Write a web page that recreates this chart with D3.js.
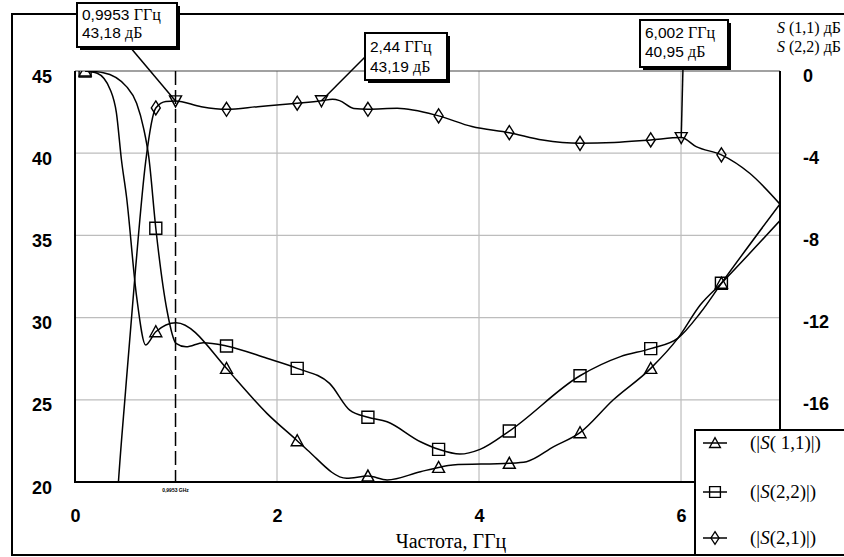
<!DOCTYPE html>
<html>
<head>
<meta charset="utf-8">
<script src="https://cdn.jsdelivr.net/npm/d3@7"></script>
<style>
body{margin:0;background:#fff;}
svg{display:block;}
</style>
</head>
<body>
<div class="chart"></div>
<script>
// S(1,1), дБ (правая ось)
var s11Freq=[0.1,0.22,0.35,0.41,0.46,0.51,0.61,0.7,0.8,1.0,1.5,1.6,1.9,2.2,2.3,2.69,2.9,3.09,3.42,3.6,3.74,4.3,4.47,4.74,5.0,5.33,5.7,5.97,6.19,6.4,6.98];
var s11Val=[0,-0.11,-0.92,-2.04,-4.33,-6.12,-10.98,-13.33,-12.69,-12.25,-14.47,-15.04,-16.66,-17.99,-18.44,-19.82,-19.71,-19.9,-19.5,-19.29,-19.17,-19.09,-19.01,-18.28,-17.6,-16.0,-14.47,-13.0,-11.39,-10.33,-7.28];
// S(2,2), дБ (правая ось)
var s22Freq=[0.1,0.28,0.51,0.61,0.68,0.73,0.8,0.91,1.0,1.1,1.27,1.5,1.9,2.2,2.52,2.72,2.9,3.09,3.42,3.6,3.81,4.01,4.3,5.0,5.4,5.7,5.97,6.19,6.4,6.98];
var s22Val=[0,-0.08,-0.76,-1.57,-2.8,-4.17,-7.65,-11.63,-13.25,-13.42,-13.22,-13.38,-13.98,-14.47,-15.2,-16.5,-16.85,-17.07,-18.04,-18.41,-18.64,-18.41,-17.52,-14.83,-13.9,-13.51,-13.0,-11.78,-10.33,-6.47];
// S(2,1), дБ (левая ось)
var s21Freq=[0.38,0.43,0.5,0.6,0.7,0.8,0.9,0.9953,1.25,1.5,1.81,2.2,2.44,2.55,2.62,2.76,2.9,3.19,3.6,3.93,4.3,4.63,5.0,5.34,5.7,6.002,6.15,6.4,6.68,6.98];
var s21Val=[15,20,25.5,33,39.5,42.75,43.15,43.18,42.83,42.67,42.83,43.04,43.19,43.28,43.2,42.72,42.67,42.73,42.27,41.62,41.25,40.8,40.6,40.65,40.81,40.95,40.4,39.9,38.78,36.9];

// частоты маркеров
var markerFreq=[0.1,0.8,1.5,2.2,2.9,3.6,4.3,5.0,5.7,6.4];

// маркеры-выноски
var annFreq=[0.9953,2.44,6.002];
var annVal=[43.18,43.19,40.95];
var annFreqText=['0,9953','2,44','6,002'];
var annValText=['43,18','43,19','40,95'];

var xTicks=[0,2,4,6];
var leftTicks=[20,25,30,35,40,45];
var rightTicks=[0,-4,-8,-12,-16];
var legendNames=['S( 1,1)','S(2,2)','S(2,1)'];

var width=844,height=557;
var svg=d3.select('div.chart')
		.append('svg')
		.attr('width',width)
		.attr('height',height);

var pLeft=75,pRight=780,pTop=71,pBottom=482;
var x=d3.scaleLinear().domain([0,6.98]).range([pLeft,pRight]);
var yL=d3.scaleLinear().domain([20,45]).range([pBottom,pTop]);
var yR=d3.scaleLinear().domain([-20,0]).range([pBottom,pTop]);

var sans='"Liberation Sans",Arial,sans-serif';
var serif='"Liberation Serif","Times New Roman",serif';

//внешняя рамка
svg.append('path')
	.attr('d','M850,14H12V555H850')
	.attr('fill','none')
	.attr('stroke','#000')
	.attr('stroke-width',2);

//сетка
svg.append('g').selectAll('line')
	.data([2,4,6])
	.enter().append('line')
	.attr('x1',function(d){return x(d);})
	.attr('x2',function(d){return x(d);})
	.attr('y1',pTop).attr('y2',pBottom)
	.attr('stroke','#bdbdbd').attr('stroke-width',1.2);
svg.append('g').selectAll('line')
	.data([25,30,35,40])
	.enter().append('line')
	.attr('y1',function(d){return yL(d);})
	.attr('y2',function(d){return yL(d);})
	.attr('x1',pLeft).attr('x2',pRight)
	.attr('stroke','#bdbdbd').attr('stroke-width',1.2);
svg.append('line')
	.attr('x1',pLeft).attr('x2',pRight).attr('y1',pTop).attr('y2',pTop)
	.attr('stroke','#444').attr('stroke-width',1.2);

//оси
var ax=svg.append('g')
	.attr('transform','translate(0,'+pBottom+')')
	.call(d3.axisBottom(x).tickValues(xTicks).tickSize(0).tickFormat(function(d){return String(d);}));
ax.selectAll('text').attr('y',40).attr('dy',0);

var al=svg.append('g')
	.attr('transform','translate('+pLeft+',0)')
	.call(d3.axisLeft(yL).tickValues(leftTicks).tickSize(0).tickPadding(23));
al.selectAll('text').attr('dy',11);

var ar=svg.append('g')
	.attr('transform','translate('+pRight+',0)')
	.call(d3.axisRight(yR).tickValues(rightTicks).tickSize(0).tickPadding(23).tickFormat(function(d){return String(d);}));
ar.selectAll('text').attr('dy',10);

svg.selectAll('.domain').remove();
svg.selectAll('.tick text')
	.attr('font-family',sans)
	.attr('font-size',18)
	.attr('font-weight','bold')
	.attr('fill','#000');

svg.append('path')
	.attr('d','M'+pLeft+','+pTop+'V'+pBottom+'H695')
	.attr('fill','none').attr('stroke','#000').attr('stroke-width',2);
svg.append('line')
	.attr('x1',pRight).attr('x2',pRight).attr('y1',pTop).attr('y2',430)
	.attr('stroke','#000').attr('stroke-width',2);

//пунктир маркера
svg.append('line')
	.attr('x1',x(annFreq[0])).attr('x2',x(annFreq[0]))
	.attr('y1',pTop).attr('y2',pBottom)
	.attr('stroke','#000').attr('stroke-width',1.5)
	.attr('stroke-dasharray','14,5');
svg.append('text')
	.attr('x',x(annFreq[0])).attr('y',492)
	.attr('text-anchor','middle')
	.attr('font-family',sans).attr('font-size',5).attr('font-weight','bold')
	.text(annFreqText[0]+' GHz');

//кривые
svg.append('clipPath').attr('id','plot')
	.append('rect').attr('x',pLeft).attr('y',pTop)
	.attr('width',pRight-pLeft).attr('height',pBottom-pTop);
var plot=svg.append('g').attr('clip-path','url(#plot)');

function pts(f,v){
	return f.map(function(d,i){return [d,v[i]];});
}
var series=[
	{f:s11Freq,v:s11Val,y:yR,shape:'tri'},
	{f:s22Freq,v:s22Val,y:yR,shape:'sq'},
	{f:s21Freq,v:s21Val,y:yL,shape:'dia'}
];
series.forEach(function(s){
	var line=d3.line()
		.x(function(d){return x(d[0]);})
		.y(function(d){return s.y(d[1]);})
		.curve(d3.curveMonotoneX);
	plot.append('path')
		.attr('d',line(pts(s.f,s.v)))
		.attr('fill','none')
		.attr('stroke','#000')
		.attr('stroke-width',1.5);
});

//формы маркеров
function shapePath(shape){
	if(shape=='tri') return 'M-6,5L6,5L0,-6Z';
	if(shape=='sq') return 'M-6,-6H6V6H-6Z';
	if(shape=='dia') return 'M0,-7L4.5,0L0,7L-4.5,0Z';
	return 'M-6,-5L6,-5L0,6Z';
}
series.forEach(function(s){
	var m=[];
	markerFreq.forEach(function(f){
		var i=s.f.indexOf(f);
		if(i>=0) m.push([f,s.v[i]]);
	});
	plot.selectAll(null)
		.data(m)
		.enter().append('path')
		.attr('transform',function(d){return 'translate('+x(d[0])+','+s.y(d[1])+')';})
		.attr('d',shapePath(s.shape))
		.attr('fill','none')
		.attr('stroke','#000')
		.attr('stroke-width',1.4);
});

//выноски
var boxes=[
	{x:77,y:3,w:100,h:44,lx:130,b1:20,b2:38},
	{x:365,y:33,w:82,h:47,lx:365,ly:57,b1:52,b2:72},
	{x:640,y:20,w:88,h:47,lx:683,b1:38,b2:57}
];
boxes.forEach(function(b,i){
	var px=x(annFreq[i]),py=yL(annVal[i]);
	svg.append('line')
		.attr('x1',b.lx).attr('y1',b.ly||b.y+b.h)
		.attr('x2',px).attr('y2',py)
		.attr('stroke','#000').attr('stroke-width',1.5);
	svg.append('path')
		.attr('transform','translate('+px+','+py+')')
		.attr('d',shapePath('inv'))
		.attr('fill','none').attr('stroke','#000').attr('stroke-width',1.4);
	svg.append('rect')
		.attr('x',b.x+3).attr('y',b.y+3).attr('width',b.w).attr('height',b.h)
		.attr('fill','#000');
	svg.append('rect')
		.attr('x',b.x).attr('y',b.y).attr('width',b.w).attr('height',b.h)
		.attr('fill','#fff').attr('stroke','#000').attr('stroke-width',2);
	var t1=svg.append('text').attr('x',b.x+5).attr('y',b.b1);
	t1.append('tspan').attr('font-family',sans).attr('font-size',15.5).text(annFreqText[i]+' ');
	t1.append('tspan').attr('font-family',serif).attr('font-size',16).text('ГГц');
	var t2=svg.append('text').attr('x',b.x+5).attr('y',b.b2);
	t2.append('tspan').attr('font-family',sans).attr('font-size',15.5).text(annValText[i]+' ');
	t2.append('tspan').attr('font-family',serif).attr('font-size',16).text('дБ');
});

//подписи осей
svg.append('text')
	.attr('x',451).attr('y',548)
	.attr('text-anchor','middle')
	.attr('font-family',serif).attr('font-size',20)
	.text('Частота, ГГц');
['S (1,1) дБ','S (2,2) дБ'].forEach(function(t,i){
	var tx=svg.append('text')
		.attr('x',841).attr('y',33+i*19)
		.attr('text-anchor','end')
		.attr('font-family',serif).attr('font-size',16);
	tx.append('tspan').attr('font-style','italic').text('S');
	tx.append('tspan').text(t.substring(1));
});

//легенда
svg.append('rect')
	.attr('x',695).attr('y',430).attr('width',160).attr('height',125)
	.attr('fill','#fff').attr('stroke','#000').attr('stroke-width',2);
var lg=svg.selectAll('g.leg')
	.data(series)
	.enter().append('g')
	.attr('class','leg')
	.attr('transform',function(d,i){return 'translate(715,'+[443,492,538][i]+')';});
lg.append('line')
	.attr('x1',-12).attr('x2',12)
	.attr('stroke','#000').attr('stroke-width',1.5);
lg.append('path')
	.attr('d',function(d){return shapePath(d.shape);})
	.attr('transform','scale(0.9)')
	.attr('fill','none').attr('stroke','#000').attr('stroke-width',1.5);
lg.each(function(d,i){
	var t=d3.select(this).append('text')
		.attr('x',35).attr('y',6)
		.attr('font-family',serif).attr('font-size',19);
	t.append('tspan').text('(|');
	t.append('tspan').attr('font-style','italic').text('S');
	t.append('tspan').text(legendNames[i].substring(1)+'|)');
});
</script>
</body>
</html>
